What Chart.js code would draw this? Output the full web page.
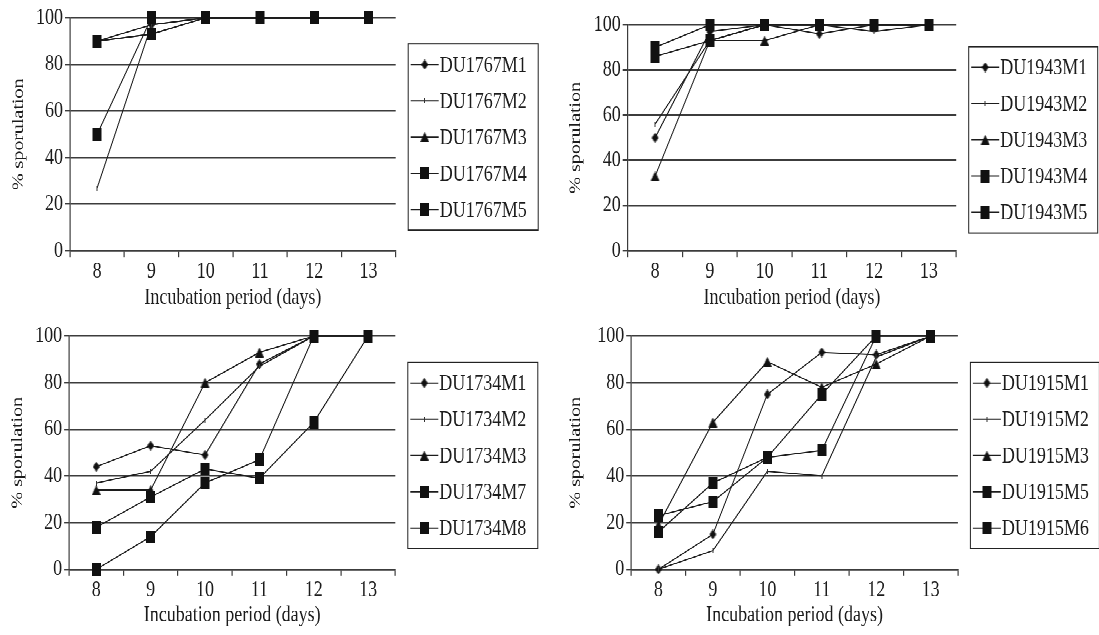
<!DOCTYPE html>
<html lang="en">
<head>
  <meta charset="UTF-8">
  <title>% sporulation vs incubation period</title>
  <script src="https://cdn.jsdelivr.net/npm/chart.js"></script>
  <style>
    body {
      margin: 0;
      background: #fff;
      overflow: hidden;
    }
    /* the source figure is stretched vertically, so the whole stage is too */
    #stage {
      position: absolute;
      left: 0;
      top: 0;
      width: 1099px;
      height: 508px;
      transform: scaleY(1.25);
      transform-origin: 0 0;
    }
    .panel {
      position: absolute;
      height: 254px;
    }
  </style>
</head>
<body>
<div id="stage">
  <div class="panel" style="left:0; top:0; width:550px;"><canvas id="c1767"></canvas></div>
  <div class="panel" style="left:550px; top:0; width:549px;"><canvas id="c1943"></canvas></div>
  <div class="panel" style="left:0; top:254px; width:550px;"><canvas id="c1734"></canvas></div>
  <div class="panel" style="left:550px; top:254px; width:549px;"><canvas id="c1915"></canvas></div>
</div>
<script>
  var days = ['8', '9', '10', '11', '12', '13'];
  var yTicks = [0, 20, 40, 60, 80, 100];
  var xTitle = 'Incubation period (days)';
  var yTitle = '% sporulation';

  // DU1767
  var du1767Labels = ['DU1767M1', 'DU1767M2', 'DU1767M3', 'DU1767M4', 'DU1767M5'];
  var du1767M1 = [90, 97, 100, 100, 100, 100];
  var du1767M2 = [27, 97, 100, 100, 100, 100];
  var du1767M3 = [90, 93, 100, 100, 100, 100];
  var du1767M4 = [50, 100, 100, 100, 100, 100];
  var du1767M5 = [90, 93, 100, 100, 100, 100];

  // DU1943
  var du1943Labels = ['DU1943M1', 'DU1943M2', 'DU1943M3', 'DU1943M4', 'DU1943M5'];
  var du1943M1 = [50, 97, 100, 96, 100, 100];
  var du1943M2 = [56, 93, 100, 100, 97, 100];
  var du1943M3 = [33, 93, 93, 100, 100, 100];
  var du1943M4 = [90, 100, 100, 100, 100, 100];
  var du1943M5 = [86, 93, 100, 100, 100, 100];

  // DU1734
  var du1734Labels = ['DU1734M1', 'DU1734M2', 'DU1734M3', 'DU1734M7', 'DU1734M8'];
  var du1734M1 = [44, 53, 49, 88, 100, 100];
  var du1734M2 = [37, 42, 64, 87, 100, 100];
  var du1734M3 = [34, 34, 80, 93, 100, 100];
  var du1734M7 = [18, 31, 43, 39, 63, 100];
  var du1734M8 = [0, 14, 37, 47, 100, 100];

  // DU1915
  var du1915Labels = ['DU1915M1', 'DU1915M2', 'DU1915M3', 'DU1915M5', 'DU1915M6'];
  var du1915M1 = [0, 15, 75, 93, 92, 100];
  var du1915M2 = [0, 8, 42, 40, 91, 100];
  var du1915M3 = [19, 63, 89, 78, 88, 100];
  var du1915M5 = [23, 29, 48, 51, 100, 100];
  var du1915M6 = [16, 37, 48, 75, 100, 100];

  var markerKinds = ['diamond', 'tick', 'triangle', 'square', 'square'];

  var ink = '#1c1c1c';
  var gridInk = '#3c3c3c';
  var serif = '"Liberation Serif", "Times New Roman", serif';

  function makeMarker(kind) {
    var c = document.createElement('canvas');
    var g;
    if (kind === 'square') {
      c.width = 9; c.height = 10;
      g = c.getContext('2d');
      g.fillStyle = '#111';
      g.fillRect(0, 0, 9, 10);
    } else if (kind === 'diamond') {
      c.width = 7; c.height = 8;
      g = c.getContext('2d');
      g.fillStyle = '#111';
      g.beginPath();
      g.moveTo(3.5, 0); g.lineTo(7, 4); g.lineTo(3.5, 8); g.lineTo(0, 4);
      g.closePath();
      g.fill();
    } else if (kind === 'triangle') {
      c.width = 9; c.height = 8;
      g = c.getContext('2d');
      g.fillStyle = '#111';
      g.beginPath();
      g.moveTo(4.5, 0); g.lineTo(9, 8); g.lineTo(0, 8);
      g.closePath();
      g.fill();
    } else {
      c.width = 1; c.height = 4;
      g = c.getContext('2d');
      g.fillStyle = '#333';
      g.fillRect(0, 0, 1, 4);
    }
    return c;
  }

  // boxed legend on the right, like the original figure
  var boxLegend = {
    id: 'boxLegend',
    afterDraw: function (chart) {
      var o = chart.options.plugins.boxLegend;
      var ctx = chart.ctx;
      var left = chart.chartArea.right + 12;
      ctx.save();
      ctx.strokeStyle = '#222';
      ctx.lineWidth = 1;
      ctx.strokeRect(left + 0.5, o.top + 0.5, o.width, 149);
      ctx.font = '18px ' + serif;
      ctx.fillStyle = ink;
      ctx.textBaseline = 'middle';
      chart.data.datasets.forEach(function (ds, i) {
        var y = o.top + 17 + i * 29;
        ctx.beginPath();
        ctx.moveTo(left + 3, y);
        ctx.lineTo(left + 31, y);
        ctx.strokeStyle = ink;
        ctx.stroke();
        var m = ds.pointStyle;
        ctx.drawImage(m, left + 17 - m.width / 2, y - m.height / 2);
        ctx.fillText(ds.label, left + 32, y + 1);
      });
      ctx.restore();
    }
  };

  function buildPanel(id, labels, series, g) {
    var datasets = series.map(function (values, i) {
      return {
        label: labels[i],
        data: values,
        borderColor: ink,
        borderWidth: 1,
        pointStyle: makeMarker(markerKinds[i]),
        pointRadius: 5,
        pointBackgroundColor: '#111',
        pointBorderColor: '#111',
        tension: 0,
        fill: false,
        clip: false,
        order: series.length - 1 - i
      };
    });

    new Chart(document.getElementById(id), {
      type: 'line',
      data: { labels: days, datasets: datasets },
      plugins: [boxLegend],
      options: {
        responsive: true,
        maintainAspectRatio: false,
        animation: false,
        devicePixelRatio: 2,
        layout: { padding: { top: g.top, right: g.right, bottom: 0, left: 0 } },
        plugins: {
          legend: { display: false },
          tooltip: { enabled: false },
          boxLegend: { top: g.legendTop, width: g.legendWidth }
        },
        scales: {
          x: {
            offset: true,
            grid: {
              display: true,
              offset: true,
              drawOnChartArea: false,
              drawTicks: true,
              tickLength: 5,
              color: gridInk,
              lineWidth: 1.2
            },
            border: { display: true, color: gridInk, width: 1.2 },
            ticks: { color: ink, font: { family: serif, size: 18 }, padding: 1, maxRotation: 0 },
            title: {
              display: true,
              text: xTitle,
              color: ink,
              font: { family: serif, size: 18 },
              padding: { top: 0, bottom: 5 }
            },
            afterFit: function (s) { s.height = g.xHeight; }
          },
          y: {
            min: 0,
            max: 100,
            afterBuildTicks: function (s) {
              s.ticks = yTicks.map(function (v) { return { value: v }; });
            },
            grid: {
              color: gridInk,
              lineWidth: 1.2,
              drawTicks: true,
              tickLength: 5
            },
            border: { display: true, color: gridInk, width: 1.2 },
            ticks: { color: ink, font: { family: serif, size: 18 }, padding: 2 },
            title: {
              display: true,
              text: yTitle,
              color: ink,
              font: { family: serif, size: 16 },
              padding: { top: g.yTitlePad, bottom: 0 }
            },
            afterFit: function (s) { s.width = g.yWidth; }
          }
        }
      }
    });
  }

  buildPanel('c1767', du1767Labels, [du1767M1, du1767M2, du1767M3, du1767M4, du1767M5],
    { top: 14.2, right: 154.3, xHeight: 53.4, yWidth: 70, yTitlePad: 9.4, legendTop: 34.6, legendWidth: 130 });
  buildPanel('c1943', du1943Labels, [du1943M1, du1943M2, du1943M3, du1943M4, du1943M5],
    { top: 19.8, right: 142.8, xHeight: 53.4, yWidth: 77.7, yTitlePad: 16.4, legendTop: 36.8, legendWidth: 129 });
  buildPanel('c1734', du1734Labels, [du1734M1, du1734M2, du1734M3, du1734M7, du1734M8],
    { top: 14.8, right: 154.7, xHeight: 52.6, yWidth: 69.1, yTitlePad: 8, legendTop: 35.4, legendWidth: 130 });
  buildPanel('c1915', du1915Labels, [du1915M1, du1915M2, du1915M3, du1915M5, du1915M6],
    { top: 14.8, right: 141.1, xHeight: 52.6, yWidth: 81.2, yTitlePad: 16.4, legendTop: 35.4, legendWidth: 129 });
</script>
</body>
</html>
